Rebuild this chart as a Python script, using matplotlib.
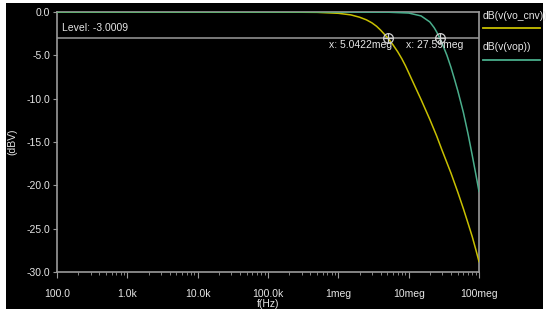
import matplotlib
matplotlib.use("Agg")
import matplotlib.pyplot as plt
from matplotlib.lines import Line2D
from matplotlib.patches import Rectangle
from matplotlib.ticker import LogLocator, NullFormatter

plt.rcParams['font.family'] = ['Liberation Sans', 'DejaVu Sans']

# frequency response
f_cnv = [100, 1e3, 1e4, 1e5, 5e5, 1e6, 1.5e6, 2e6, 2.5e6, 3e6, 3.5e6, 4e6, 4.5e6,
         5.0422e6, 6e6, 7e6, 8e6, 9e6, 1e7, 1.2e7, 1.5e7, 2e7, 2.5e7, 3e7, 4e7,
         5e7, 6e7, 7e7, 8e7, 9e7, 1e8]
db_cnv = [0, 0, 0, 0, -0.04, -0.15, -0.33, -0.6, -0.9, -1.25, -1.65, -2.1, -2.55,
          -3.0, -3.8, -4.6, -5.4, -6.2, -7.0, -8.4, -10.1, -12.4, -14.3, -16.0, -18.6,
          -20.8, -22.7, -24.4, -25.9, -27.4, -28.8]

f_vop = [100, 1e3, 1e4, 1e5, 1e6, 5e6, 1e7, 1.5e7, 2e7, 2.3e7, 2.5e7, 2.759e7,
         3e7, 3.5e7, 4e7, 4.5e7, 5e7, 5.5e7, 6e7, 7e7, 8e7, 9e7, 1e8]
db_vop = [0, 0, 0, 0, 0, -0.02, -0.12, -0.45, -1.15, -1.8, -2.3, -3.0,
          -3.65, -5.0, -6.4, -7.8, -9.1, -10.4, -11.6, -14.1, -16.5, -18.7, -20.7]

level = -3.0009
cursor_x = [5.0422e6, 27.59e6]
cursor_txt = ["x: 5.0422meg", "x: 27.59meg"]

xticks = [1e2, 1e3, 1e4, 1e5, 1e6, 1e7, 1e8]
xticklabels = ["100.0", "1.0k", "10.0k", "100.0k", "1meg", "10meg", "100meg"]
yticks = [0, -5, -10, -15, -20, -25, -30]

yellow = "#c8c000"
green = "#4aae8c"
grey = "#9a9a9a"
txt = "#e6e6e6"

W, H = 550, 316
fig = plt.figure(figsize=(5.5, 3.16), dpi=100, facecolor="white")
fig.add_artist(Rectangle((6 / W, 1 - 309 / H), 537 / W, 306 / H,
                         transform=fig.transFigure, facecolor="black",
                         edgecolor="none", zorder=0))

ax = fig.add_axes([57 / W, 1 - 272 / H, 422 / W, 260 / H])
ax.set_facecolor("black")
ax.plot(f_cnv, db_cnv, color=yellow, lw=1.1, zorder=3)
ax.plot(f_vop, db_vop, color=green, lw=1.1, zorder=3)

ax.set_xscale("log")
ax.set_xlim(1e2, 1e8)
ax.set_ylim(-30, 0)
ax.set_xticks(xticks)
ax.set_xticklabels(xticklabels)
ax.xaxis.set_minor_locator(LogLocator(base=10, subs=range(2, 10)))
ax.xaxis.set_minor_formatter(NullFormatter())
ax.set_yticks(yticks)
ax.set_yticklabels(["%.1f" % v for v in yticks])

for s in ax.spines.values():
    s.set_color(grey)
    s.set_linewidth(1.2)
ax.tick_params(axis="x", which="major", length=4, color=grey, colors=txt,
               labelsize=7.5, pad=8)
ax.tick_params(axis="x", which="minor", length=2.5, color=grey)
ax.tick_params(axis="y", length=3, color=grey, colors=txt, labelsize=7.5, pad=2)
ax.set_xlabel("f(Hz)", color=txt, fontsize=7.5, labelpad=0)
ax.set_ylabel("(dBV)", color=txt, fontsize=7.5)
ax.yaxis.set_label_coords(-0.095, 0.5)

# level cursor
ax.axhline(level, color=grey, lw=1.1, zorder=2)
ax.text(118, -1.85, "Level: -3.0009", color=txt, fontsize=7.5, va="center")
for xc, t, xt in zip(cursor_x, cursor_txt, [7.3e5, 9.3e6]):
    ax.plot(xc, level, marker="o", ms=7, mfc="none", mec="#d0d0d0", mew=0.9, zorder=5)
    ax.plot(xc, level, marker="+", ms=7, mec="#d0d0d0", mew=0.9, zorder=5)
    ax.text(xt, -3.75, t, color=txt, fontsize=7.5, va="center")

# legend pane
fig.text(483 / W, 1 - 16 / H, "dB(v(vo_cnv))", color=txt, fontsize=7.5, va="center")
fig.add_artist(Line2D([483 / W, 540 / W], [1 - 28 / H] * 2, color=yellow, lw=1.3))
fig.text(483 / W, 1 - 47 / H, "dB(v(vop))", color=txt, fontsize=7.5, va="center")
fig.add_artist(Line2D([483 / W, 540 / W], [1 - 60 / H] * 2, color=green, lw=1.3))

fig.savefig("out.png", dpi=100, facecolor="white")
